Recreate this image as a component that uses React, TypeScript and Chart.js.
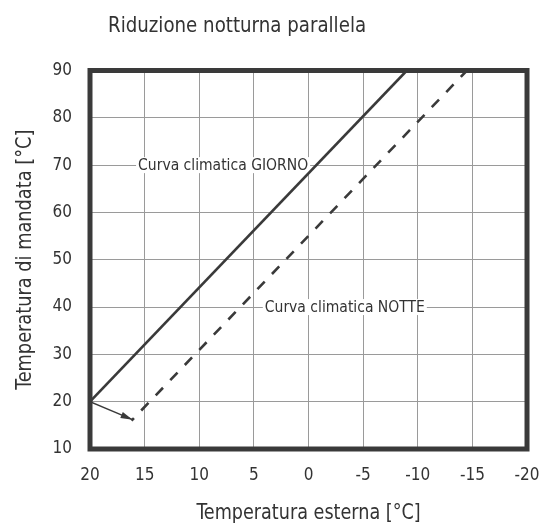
import React, { useEffect, useRef } from "react";
import { Chart, registerables } from "chart.js";

Chart.register(...registerables);

const TITLE = "Riduzione notturna parallela";
const X_TITLE = "Temperatura esterna [°C]";
const Y_TITLE = "Temperatura di mandata [°C]";

const X_TICKS = [20, 15, 10, 5, 0, -5, -10, -15, -20];
const Y_TICKS = [10, 20, 30, 40, 50, 60, 70, 80, 90];

// Curva climatica GIORNO (solid)
const DAY_X = [20, -9];
const DAY_Y = [20, 90];
// Curva climatica NOTTE (dashed)
const NIGHT_X = [16.2, -14.5];
const NIGHT_Y = [16, 90];
// Arrow showing the parallel shift
const ARROW_X = [20, 16.1];
const ARROW_Y = [20, 16.2];

const LABEL_TEXT = ["Curva climatica GIORNO", "Curva climatica NOTTE"];
const LABEL_X = [15.6, 4.0];
const LABEL_Y = [70, 40];

const FONT = '"Liberation Sans Narrow", "DejaVu Sans Condensed", "Arial Narrow", sans-serif';
const TEXT = "#333333";
const FRAME = "#3a3a3a";
const GRID = "#9a9a9a";

const toPts = (xs: number[], ys: number[]) => xs.map((x, i) => ({ x, y: ys[i] }));

export default function App() {
  const ref = useRef<HTMLCanvasElement | null>(null);

  useEffect(() => {
    if (!ref.current) return;

    const textPlugin = {
      id: "titleTexts",
      afterDraw(chart: any) {
        const ctx = chart.ctx;
        const { left, right, top, bottom } = chart.chartArea;
        ctx.save();
        ctx.fillStyle = TEXT;
        ctx.textBaseline = "alphabetic";
        // main title
        ctx.save();
        ctx.font = `22px ${FONT}`;
        ctx.textAlign = "left";
        ctx.translate(108, 32);
        ctx.scale(0.92, 1);
        ctx.fillText(TITLE, 0, 0);
        ctx.restore();
        // x axis title
        ctx.save();
        ctx.font = `22px ${FONT}`;
        ctx.textAlign = "center";
        ctx.translate((left + right) / 2, 519);
        ctx.scale(0.89, 1);
        ctx.fillText(X_TITLE, 0, 0);
        ctx.restore();
        // y axis title
        ctx.save();
        ctx.font = `21px ${FONT}`;
        ctx.textAlign = "center";
        ctx.translate(31, (top + bottom) / 2);
        ctx.rotate(-Math.PI / 2);
        ctx.scale(0.94, 1);
        ctx.fillText(Y_TITLE, 0, 0);
        ctx.restore();
        ctx.restore();
      },
    };

    const labelPlugin = {
      id: "curveLabels",
      beforeDatasetsDraw(chart: any) {
        const ctx = chart.ctx;
        const xs = chart.scales.x;
        const ys = chart.scales.y;
        ctx.save();
        ctx.font = `15.5px ${FONT}`;
        ctx.textAlign = "left";
        ctx.textBaseline = "middle";
        LABEL_TEXT.forEach((t, i) => {
          const px = xs.getPixelForValue(LABEL_X[i]);
          const py = ys.getPixelForValue(LABEL_Y[i]);
          const w = ctx.measureText(t).width;
          ctx.fillStyle = "#ffffff";
          ctx.fillRect(px - 2, py - 8, w + 4, 16);
          ctx.fillStyle = TEXT;
          ctx.fillText(t, px, py + 0.5);
        });
        ctx.restore();
      },
    };

    const framePlugin = {
      id: "frameAndArrow",
      afterDatasetsDraw(chart: any) {
        const ctx = chart.ctx;
        const xs = chart.scales.x;
        const ys = chart.scales.y;
        const x0 = xs.getPixelForValue(ARROW_X[0]);
        const y0 = ys.getPixelForValue(ARROW_Y[0]);
        const x1 = xs.getPixelForValue(ARROW_X[1]);
        const y1 = ys.getPixelForValue(ARROW_Y[1]);
        const a = Math.atan2(y1 - y0, x1 - x0);
        const L = 12;
        const H = 3.2;
        ctx.save();
        ctx.fillStyle = FRAME;
        ctx.beginPath();
        ctx.moveTo(x1, y1);
        ctx.lineTo(x1 - L * Math.cos(a) - H * Math.sin(a), y1 - L * Math.sin(a) + H * Math.cos(a));
        ctx.lineTo(x1 - L * Math.cos(a) + H * Math.sin(a), y1 - L * Math.sin(a) - H * Math.cos(a));
        ctx.closePath();
        ctx.fill();
        const { left, top, right, bottom } = chart.chartArea;
        ctx.strokeStyle = FRAME;
        ctx.lineWidth = 5;
        ctx.strokeRect(left, top, right - left, bottom - top);
        ctx.restore();
      },
    };

    const chart = new Chart(ref.current, {
      type: "line",
      data: {
        datasets: [
          {
            label: "GIORNO",
            data: toPts(DAY_X, DAY_Y),
            borderColor: FRAME,
            borderWidth: 2.6,
            pointRadius: 0,
            tension: 0,
          },
          {
            label: "NOTTE",
            data: toPts(NIGHT_X, NIGHT_Y),
            borderColor: FRAME,
            borderWidth: 2.6,
            borderDash: [10.5, 10.5],
            borderDashOffset: 7,
            pointRadius: 0,
            tension: 0,
          },
          {
            label: "arrow",
            data: toPts(ARROW_X, ARROW_Y),
            borderColor: FRAME,
            borderWidth: 1.3,
            pointRadius: 0,
            tension: 0,
          },
        ],
      },
      options: {
        animation: false,
        responsive: false,
        maintainAspectRatio: false,
        layout: { padding: { top: 70.5, right: 12.7, left: 0, bottom: 0 } },
        plugins: { legend: { display: false }, tooltip: { enabled: false } },
        scales: {
          x: {
            type: "linear",
            reverse: true,
            min: -20,
            max: 20,
            afterBuildTicks: (s: any) => {
              s.ticks = X_TICKS.map((v) => ({ value: v }));
            },
            afterFit: (s: any) => {
              s.height = 75;
            },
            grid: { color: GRID, lineWidth: 1, drawTicks: false },
            border: { display: false },
            ticks: {
              color: TEXT,
              padding: 16.5,
              font: { family: FONT, size: 17 },
              callback: (v: any) => String(v),
            },
            title: { display: false },
          },
          y: {
            type: "linear",
            min: 10,
            max: 90,
            afterBuildTicks: (s: any) => {
              s.ticks = Y_TICKS.map((v) => ({ value: v }));
            },
            afterFit: (s: any) => {
              s.width = 90;
            },
            grid: { color: GRID, lineWidth: 1, drawTicks: false },
            border: { display: false },
            ticks: {
              color: TEXT,
              padding: 18,
              font: { family: FONT, size: 17 },
              callback: (v: any) => String(v),
            },
            title: { display: false },
          },
        },
      },
      plugins: [textPlugin, labelPlugin, framePlugin],
    });

    return () => chart.destroy();
  }, []);

  return (
    <div
      style={{
        position: "fixed",
        left: 0,
        top: 0,
        width: 556,
        height: 524,
        background: "#ffffff",
      }}
    >
      <canvas ref={ref} width={556} height={524} style={{ display: "block" }} />
    </div>
  );
}
